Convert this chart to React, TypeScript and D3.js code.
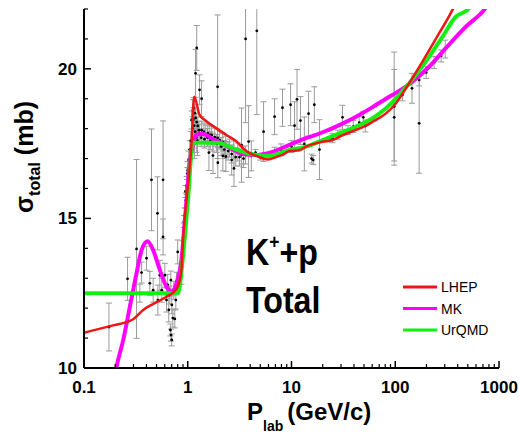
import React from "react";
import * as d3 from "d3";

// ---- Curves (P_lab GeV/c, sigma mb) ----
const lhepP = [0.1, 0.178, 0.298, 0.372, 0.464, 0.624, 0.722, 0.807, 0.87, 0.901, 0.972, 1.085, 1.155, 1.3, 1.46, 1.89, 2.36, 2.98, 3.53, 3.95, 4.74, 5.92, 7.13, 8.24, 9.57, 11.94, 13.8, 20.0, 24.9, 28.9, 41.9, 52.3, 60.5, 81.4, 101.6, 126.8, 183, 265, 356, 420];
const lhepS = [11.18, 11.4, 11.63, 11.94, 12.14, 12.38, 12.52, 12.75, 13.3, 14.28, 15.61, 17.45, 19.07, 18.46, 18.29, 18.01, 17.79, 17.56, 17.3, 17.18, 17.07, 16.97, 17.05, 17.13, 17.25, 17.28, 17.4, 17.56, 17.62, 17.73, 17.96, 18.1, 18.23, 18.51, 18.85, 19.35, 20.24, 21.19, 21.97, 22.5];

const mkP = [0.2, 0.206, 0.239, 0.277, 0.321, 0.359, 0.41, 0.464, 0.538, 0.624, 0.697, 0.778, 0.869, 0.957, 1.045, 1.14, 1.2, 1.4, 1.82, 2.27, 2.83, 3.28, 4.57, 5.92, 9.57, 13.8, 20.0, 28.9, 41.9, 60.5, 81.4, 105.3, 146.6, 212, 307, 479, 718, 800];
const mkS = [9.8, 10.04, 10.94, 12.05, 13.17, 13.94, 14.24, 13.94, 13.28, 12.72, 12.55, 12.83, 13.61, 15.3, 16.85, 17.55, 17.8, 17.82, 17.62, 17.46, 17.27, 17.17, 17.12, 17.18, 17.46, 17.68, 17.88, 18.12, 18.4, 18.72, 19.0, 19.23, 19.57, 20.07, 20.69, 21.41, 21.97, 22.2];

const urqmdP = [0.1, 0.3, 0.5, 0.807, 0.901, 1.007, 1.12, 1.95, 2.73, 3.8, 5.92, 9.57, 13.8, 20.0, 28.9, 41.9, 60.5, 81.4, 101.6, 136.5, 197, 285, 384, 496, 560];
const urqmdS = [12.5, 12.5, 12.5, 12.5, 13.75, 15.65, 17.53, 17.53, 17.34, 17.18, 17.09, 17.29, 17.4, 17.62, 17.84, 18.07, 18.35, 18.68, 19.01, 19.52, 20.24, 21.07, 21.74, 21.97, 22.2];

// ---- Experimental data (P_lab, sigma, error) ----
const dataP = [
  0.174, 0.263, 0.321, 0.345, 0.359, 0.401, 0.431, 0.447, 0.464, 0.511, 0.578, 0.578, 0.515, 0.538, 0.562, 0.601, 0.624, 0.64, 0.656, 0.671,
  0.687, 0.702, 0.718, 0.733, 0.75, 0.68, 0.69, 0.7, 0.767, 0.8, 0.869, 0.78,
  0.895, 0.915, 0.935, 0.957, 0.978, 1.0, 1.02, 1.045, 1.07, 0.92, 0.95, 0.99,
  1.09, 1.12, 1.14, 1.17, 1.19, 1.22, 1.25, 1.28, 1.3, 1.36, 1.43, 1.49, 1.56, 1.63, 1.7, 1.82, 1.94, 2.03, 2.17, 2.32, 2.53, 2.77, 3.03, 3.3, 3.61,
  1.11, 1.15, 1.18, 1.21, 1.24, 1.16, 1.13, 1.35, 1.45, 1.55, 1.65, 1.75, 1.9, 2.1, 2.25, 2.45, 2.65, 2.9, 3.15, 3.45,
  1.19, 1.22, 1.3, 1.36, 1.94, 3.61, 4.63,
  1.95, 2.18, 2.33, 2.79, 2.65, 1.6, 1.75,
  3.86, 3.3, 4.1, 5.38, 6.87, 8.19, 9.8, 10.7, 11.3, 12.2, 13.3, 14.6, 16.6, 18.6, 15.6, 16.2, 6.87, 7.93, 10.0, 4.5, 5.0,
  24.8, 31.0, 39.4, 49.2, 51.5, 28, 35, 45,
  97.7, 97.7, 117.5, 145, 170, 170, 198.6, 237, 277, 303,
];
const dataS = [
  11.37, 12.98, 13.98, 12.5, 13.19, 13.67, 12.83, 16.29, 12.6, 15.17, 16.29, 14.38, 12.27, 13.1, 12.6, 13.1, 12.27, 12.78, 11.94, 12.44,
  12.94, 12.11, 11.67, 12.6, 11.64, 11.27, 11.1, 10.94, 12.27, 13.88, 13.1, 12.9,
  14.0, 14.6, 15.1, 15.6, 16.1, 16.6, 16.95, 17.3, 17.6, 14.9, 15.9, 16.5,
  18.29, 18.62, 18.69, 18.52, 18.36, 18.22, 18.09, 17.95, 17.85, 17.95, 17.89, 17.82, 17.85, 17.79, 17.79, 17.72, 17.69, 17.62, 17.55, 17.45, 17.35, 17.29, 17.22, 17.12, 17.12,
  18.0, 18.1, 17.9, 17.7, 17.6, 17.5, 18.3, 17.7, 17.65, 17.7, 17.6, 17.55, 17.5, 17.4, 17.3, 17.25, 17.15, 17.05, 17.05, 17.0,
  19.85, 20.7, 19.3, 19.0, 19.4, 21.0, 21.27,
  16.86, 17.09, 17.07, 16.67, 16.95, 17.2, 17.1,
  17.57, 17.45, 17.09, 17.9, 18.4, 18.7, 18.8, 18.1, 18.98, 18.27, 17.49, 18.5, 18.8, 17.3, 17.0, 16.95, 17.23, 17.29, 17.4, 17.2, 17.05,
  17.68, 18.38, 18.07, 18.38, 18.09, 17.8, 17.95, 18.2,
  18.74, 18.38, 19.13, 19.35, 19.63, 18.18, 19.88, 20.21, 20.43, 20.66,
];
const dataE = [
  0.8, 0.72, 2.99, 0.3, 0.35, 0.4, 0.4, 1.7, 0.4, 1.22, 1.97, 0.6, 0.5, 0.5, 0.4, 0.4, 0.4, 0.35, 0.4, 0.3,
  0.3, 0.3, 0.3, 0.3, 0.3, 0.2, 0.2, 0.2, 0.3, 0.4, 0.3, 0.3,
  0.25, 0.25, 0.25, 0.25, 0.3, 0.3, 0.3, 0.3, 0.3, 0.2, 0.2, 0.2,
  0.3, 0.35, 0.35, 0.3, 0.3, 0.3, 0.3, 0.3, 0.3, 0.3, 0.3, 0.3, 0.3, 0.3, 0.3, 0.3, 0.3, 0.3, 0.3, 0.3, 0.3, 0.3, 0.3, 0.3, 0.3,
  0.4, 0.4, 0.4, 0.5, 0.5, 0.5, 0.4, 0.3, 0.3, 0.3, 0.3, 0.3, 0.3, 0.3, 0.3, 0.3, 0.3, 0.3, 0.3, 0.3,
  0.8, 0.75, 0.5, 0.6, 2.4, 2.8, 2.8,
  0.5, 0.5, 0.5, 0.6, 0.5, 0.6, 0.6,
  1.2, 1.24, 0.5, 1.0, 0.6, 0.62, 0.7, 0.8, 1.0, 0.8, 0.9, 0.75, 0.6, 1.0, 0.15, 0.15, 0.15, 0.2, 0.2, 0.1, 0.1,
  0.15, 0.4, 0.2, 0.2, 0.2, 0.15, 0.15, 0.2,
  1.82, 1.6, 0.2, 0.5, 0.2, 1.67, 0.2, 0.2, 0.2, 0.3,
];

const xTickVals = [0.1, 1, 10, 100, 1000];
const xTickLabels = ["0.1", "1", "10", "100", "1000"];
const yTickVals = [10, 15, 20];
const yTickLabels = ["10", "15", "20"];

const seriesNames = ["LHEP", "MK", "UrQMD"];
const seriesColors = ["#f01414", "#ff00ff", "#14ee14"];

export default function App() {
  const W = 519, H = 434;
  const left = 84, right = 499, top = 9, bottom = 368;
  const x = d3.scaleLog().domain([0.1, 1000]).range([left, right]);
  const y = d3.scaleLinear().domain([10, 22]).range([bottom, top]);

  const mk = (ps: number[], ss: number[]) =>
    d3
      .line<[number, number]>()
      .x((d) => x(d[0]))
      .y((d) => y(d[1]))
      .curve(d3.curveMonotoneX)(ps.map((p, i) => [p, ss[i]] as [number, number])) || "";

  const lhepPath = mk(lhepP, lhepS);
  const mkPath = mk(mkP, mkS);
  const urPath = mk(urqmdP, urqmdS);

  const minorX: number[] = [];
  for (let e = -1; e < 3; e++) for (let m = 2; m <= 9; m++) minorX.push(m * Math.pow(10, e));
  const minorY = d3.range(10, 23, 1).filter((v) => !yTickVals.includes(v));

  const font = "Arial, 'Liberation Sans', Helvetica, sans-serif";
  const narrow = "'Liberation Sans Narrow', 'Arial Narrow', Arial, sans-serif";

  return (
    <svg width={W} height={H} style={{ position: "absolute", left: 0, top: 0, background: "#fff" }} fontFamily={font}>
      <defs>
        <clipPath id="plotclip">
          <rect x={left} y={top} width={right - left} height={bottom - top} />
        </clipPath>
      </defs>
      {/* error bars */}
      <g stroke="#9a9a9a" strokeWidth={1} clipPath="url(#plotclip)">
        {dataP.map((p, i) => {
          const cx = x(p);
          const y1 = y(dataS[i] + dataE[i]);
          const y2 = y(dataS[i] - dataE[i]);
          return (
            <g key={i}>
              <line x1={cx} x2={cx} y1={y1} y2={y2} />
              <line x1={cx - 3} x2={cx + 3} y1={y1} y2={y1} />
              <line x1={cx - 3} x2={cx + 3} y1={y2} y2={y2} />
            </g>
          );
        })}
      </g>
      {/* points */}
      <g fill="#000">
        {dataP.map((p, i) => (
          <circle key={i} cx={x(p)} cy={y(dataS[i])} r={1.4} />
        ))}
      </g>
      {/* curves */}
      <g fill="none" clipPath="url(#plotclip)" strokeLinejoin="round">
        <path d={mkPath} stroke={seriesColors[1]} strokeWidth={4} />
        <path d={urPath} stroke={seriesColors[2]} strokeWidth={4} />
        <path d={lhepPath} stroke={seriesColors[0]} strokeWidth={2.5} />
      </g>
      {/* axes */}
      <g stroke="#000">
        <line x1={left} x2={right} y1={bottom} y2={bottom} strokeWidth={2} />
        <line x1={left} x2={left} y1={top} y2={bottom} strokeWidth={2} />
        {xTickVals.map((v) => (
          <line key={"xt" + v} x1={x(v)} x2={x(v)} y1={bottom} y2={bottom - 7} strokeWidth={1.5} />
        ))}
        {minorX.map((v) => (
          <line key={"xm" + v} x1={x(v)} x2={x(v)} y1={bottom} y2={bottom - 4} strokeWidth={1.2} />
        ))}
        {yTickVals.map((v) => (
          <line key={"yt" + v} x1={left} x2={left + 7} y1={y(v)} y2={y(v)} strokeWidth={1.5} />
        ))}
        {minorY.map((v) => (
          <line key={"ym" + v} x1={left} x2={left + 4} y1={y(v)} y2={y(v)} strokeWidth={1.2} />
        ))}
      </g>
      <g fontWeight="bold" fontSize={17} fill="#000">
        {xTickVals.map((v, i) => (
          <text key={"xl" + v} x={x(v)} y={bottom + 25} textAnchor="middle">
            {xTickLabels[i]}
          </text>
        ))}
        {yTickVals.map((v, i) => (
          <text key={"yl" + v} x={left - 7} y={y(v) + 6} textAnchor="end">
            {yTickLabels[i]}
          </text>
        ))}
      </g>
      {/* axis titles */}
      <text x={247} y={420} fontWeight="bold" fontSize={24}>
        P<tspan fontSize={14} dy={11}>lab</tspan>
        <tspan dy={-11} dx={4}>(GeV/c)</tspan>
      </text>
      <text transform="translate(33,157) rotate(-90)" textAnchor="middle" fontWeight="bold" fontSize={25}>
        σ<tspan fontSize={16} dy={7}>total</tspan>
        <tspan dy={-7}> (mb)</tspan>
      </text>
      {/* annotation */}
      <g transform="translate(246,265) scale(0.87,1)" fontWeight="bold" fontSize={37}>
        <text x={0} y={0}>
          K<tspan fontSize={20} dy={-16}>+</tspan>
          <tspan dy={16}>+p</tspan>
        </text>
        <text x={0} y={48}>Total</text>
      </g>
      {/* legend */}
      <g>
        {seriesNames.map((n, i) => {
          const ly = 287 + i * 21.5;
          return (
            <g key={n}>
              <line x1={403} x2={437} y1={ly} y2={ly} stroke={seriesColors[i]} strokeWidth={3} />
              <text x={441} y={ly + 5} fontSize={14} fontFamily={narrow}>
                {n}
              </text>
            </g>
          );
        })}
      </g>
    </svg>
  );
}
